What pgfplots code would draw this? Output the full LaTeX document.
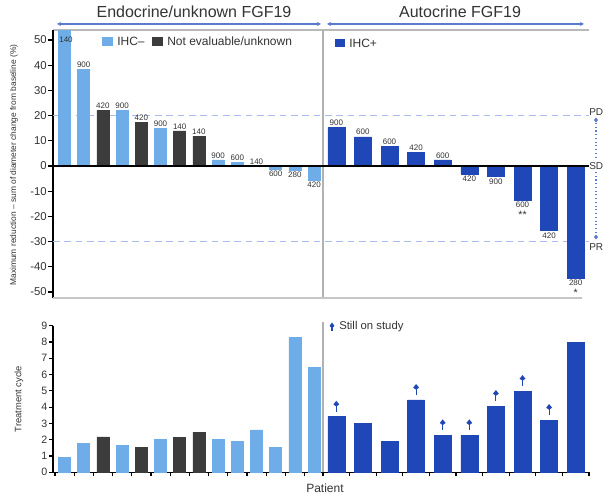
\documentclass[border=0pt]{standalone}
\usepackage{fontspec}
\setmainfont{Liberation Sans}
\usepackage{pgfplots}
\pgfplotsset{compat=1.18}
\usetikzlibrary{arrows.meta}
\definecolor{lb}{HTML}{6EADE8}
\definecolor{dg}{HTML}{3C3C3C}
\definecolor{db}{HTML}{1F47B8}
\definecolor{dashc}{HTML}{A9BCEE}
\definecolor{arr}{HTML}{5B7BD0}
\definecolor{txt}{HTML}{333333}

\pgfdeclareplotmark{still}{%
  \pgfsetlinewidth{0.8pt}%
  \pgfpathmoveto{\pgfpoint{0pt}{0pt}}\pgfpathlineto{\pgfpoint{0pt}{5pt}}\pgfusepathqstroke
  \pgfpathmoveto{\pgfpoint{0pt}{8.3pt}}\pgfpathlineto{\pgfpoint{2.2pt}{5.6pt}}%
  \pgfpathlineto{\pgfpoint{0pt}{4.0pt}}\pgfpathlineto{\pgfpoint{-2.2pt}{5.6pt}}\pgfpathclose
  \pgfusepathqfill}

\begin{document}
\begin{tikzpicture}
\begin{scope}[x=0.75pt, y=-0.75pt, shift={(0pt,371.25pt)}]
  \path[use as bounding box] (0,0) rectangle (604,495);
  \coordinate (T) at (53,298);
  \coordinate (B) at (53,472.3);
  % titles
  \node[font=\fontsize{12}{14}\selectfont, text=txt] at (194,12) {Endocrine/unknown FGF19};
  \node[font=\fontsize{12}{14}\selectfont, text=txt] at (460,12) {Autocrine FGF19};
  \draw[arr, line width=0.8pt, {Stealth[length=3pt,width=3pt]}-{Stealth[length=3pt,width=3pt]}] (57,24) -- (321,24);
  \draw[arr, line width=0.8pt, {Stealth[length=3pt,width=3pt]}-{Stealth[length=3pt,width=3pt]}] (327,24) -- (584,24);
  \draw[gray!55, line width=1pt] (53,30) -- (589,30);
  % legends
  \fill[lb] (102,37) rectangle (113,46);
  \node[anchor=west, font=\fontsize{9}{10}\selectfont, text=txt, inner sep=0pt] at (117,41.5) {IHC–};
  \fill[dg] (152,37) rectangle (163,46);
  \node[anchor=west, font=\fontsize{9}{10}\selectfont, text=txt, inner sep=0pt] at (167,41.5) {Not evaluable/unknown};
  \fill[db] (335,39) rectangle (345,47);
  \node[anchor=west, font=\fontsize{9}{10}\selectfont, text=txt, inner sep=0pt] at (349,43) {IHC+};
  % response labels
  \node[anchor=west, font=\fontsize{7.5}{9}\selectfont, text=txt, inner sep=0pt] at (589,112) {PD};
  \node[anchor=west, font=\fontsize{7.5}{9}\selectfont, text=txt, inner sep=0pt] at (589,166) {SD};
  \node[anchor=west, font=\fontsize{7.5}{9}\selectfont, text=txt, inner sep=0pt] at (589,247) {PR};
  \draw[arr, line width=0.8pt, dotted] (596,123) -- (596,160);
  \draw[arr, line width=0.8pt, dotted] (596,172) -- (596,235);
  \fill[arr] (596,117.5) -- (598,120) -- (596,122.5) -- (594,120) -- cycle;
  \fill[arr] (596,234.5) -- (598,237) -- (596,239.5) -- (594,237) -- cycle;
  % axis titles
  \node[rotate=90, font=\fontsize{6.3}{7}\selectfont, text=txt] at (14,165) {Maximum reduction – sum of diameter change from baseline (\%)};
  \node[rotate=90, font=\fontsize{7}{8}\selectfont, text=txt] at (19,399) {Treatment cycle};
  \node[font=\fontsize{9}{10}\selectfont, text=txt] at (325,488) {Patient};
  % still on study legend
  \draw[db, line width=0.8pt] (332,327) -- (332,331);
  \fill[db] (332,322.5) -- (334.5,326) -- (332,328.5) -- (329.5,326) -- cycle;
  \node[anchor=west, font=\fontsize{8.5}{9}\selectfont, text=txt, inner sep=0pt] at (339,327) {Still on study};
\end{scope}

% ---------------- top panel ----------------
\begin{axis}[
  at={(T)}, anchor=south west, scale only axis,
  width=402pt, height=201pt,
  xmin=0, xmax=536, ymin=-52.4, ymax=54,
  axis x line=none, axis y line*=left,
  y axis line style={-, line width=1.1pt, black},
  ytick={-50,-40,...,50},
  tick align=outside, major tick length=3.5pt,
  every tick/.style={black, line width=0.9pt},
  yticklabel style={font=\fontsize{8.5}{9}\selectfont, inner sep=1pt, text=txt},
  /pgf/number format/assume math mode=true,
  clip=false,
  point meta=explicit symbolic,
  pos/.style={nodes near coords, every node near coord/.style={anchor=south, font=\fontsize{6}{7}\selectfont, text=txt, inner sep=1.2pt}},
  neg/.style={nodes near coords, every node near coord/.style={anchor=north, font=\fontsize{6}{7}\selectfont, text=txt, inner sep=1.2pt}},
]
\draw[dashc, line width=0.9pt, dash pattern=on 5pt off 3.5pt] (axis cs:0,20) -- (axis cs:536,20);
\draw[dashc, line width=0.9pt, dash pattern=on 5pt off 3.5pt] (axis cs:0,-30) -- (axis cs:536,-30);
\draw[gray!60, line width=1.2pt] (axis cs:270,-52.4) -- (axis cs:270,54);
\draw[gray!45, line width=1pt] (axis cs:0,-52.4) -- (axis cs:529,-52.4);

\addplot[ybar, bar shift=0pt, bar width=12, fill=lb, draw=lb] coordinates {(11.5,54)};
\addplot[ybar, bar shift=0pt, bar width=12, fill=lb, draw=lb, pos] coordinates {
 (30.7,38.5) [900] (69.1,22) [900] (107.5,15) [900] (165.1,2.4) [900] (184.3,1.3) [600]
 (203.5,0) [140]};
\addplot[ybar, bar shift=0pt, bar width=12, fill=lb, draw=lb, neg] coordinates {
 (222.7,-1.3) [600] (241.9,-1.8) [280] (261.1,-5.5) [420]};
\addplot[ybar, bar shift=0pt, bar width=12, fill=dg, draw=dg, pos] coordinates {
 (49.9,22.2) [420] (88.3,17.3) [420] (126.7,13.9) [140] (145.9,11.9) [140]};
\addplot[ybar, bar shift=0pt, bar width=17, fill=db, draw=db, pos] coordinates {
 (283.3,15.2) [900] (309.9,11.6) [600] (336.5,7.7) [600] (363.1,5.3) [420] (389.7,2.4) [600]};
\addplot[ybar, bar shift=0pt, bar width=17, fill=db, draw=db, neg] coordinates {
 (416.3,-3.2) [420] (442.9,-4.2) [900] (469.5,-13.5) [600]
 (496.1,-25.7) [420] (522.7,-44.6) [280]};
\draw[black, line width=1.1pt] (axis cs:0,0) -- (axis cs:536,0);
\node[font=\fontsize{6}{7}\selectfont, text=txt] at (axis cs:13,50) {140};
\node[font=\fontsize{8}{9}\selectfont, text=txt] at (axis cs:469.5,-19.2) {**};
\node[font=\fontsize{8}{9}\selectfont, text=txt] at (axis cs:522.7,-50.2) {*};
\end{axis}

% ---------------- bottom panel ----------------
\begin{axis}[
  at={(B)}, anchor=south west, scale only axis,
  width=402pt, height=109.95pt,
  xmin=0, xmax=536, ymin=0, ymax=9,
  axis x line*=bottom, axis y line*=left,
  axis line style={-, line width=1.1pt, black},
  xtick={1.9,21.1,40.3,59.5,78.7,97.9,117.1,136.3,155.5,174.7,193.9,213.1,232.3,251.5,270,296.6,323.2,349.8,376.4,403,429.6,456.2,482.8,509.4,536},
  xticklabels={},
  ytick={0,1,...,9},
  tick align=outside, major tick length=3pt,
  every tick/.style={black, line width=0.9pt},
  yticklabel style={font=\fontsize{8}{9}\selectfont, inner sep=1pt, text=txt},
  /pgf/number format/assume math mode=true,
  clip=false,
]
\draw[gray!60, line width=1.2pt] (axis cs:270,0) -- (axis cs:270,9.2);
\addplot[ybar, bar shift=0pt, bar width=12, fill=lb, draw=lb] coordinates {
 (11.5,0.9) (30.7,1.78) (69.1,1.65) (107.5,2.02) (165.1,2.02) (184.3,1.92)
 (203.5,2.6) (222.7,1.53) (241.9,8.28) (261.1,6.42)};
\addplot[ybar, bar shift=0pt, bar width=12, fill=dg, draw=dg] coordinates {
 (49.9,2.17) (88.3,1.53) (126.7,2.12) (145.9,2.47)};
\addplot[ybar, bar shift=0pt, bar width=17, fill=db, draw=db] coordinates {
 (283.3,3.41) (309.9,3.0) (336.5,1.92) (363.1,4.44) (389.7,2.27) (416.3,2.27)
 (442.9,4.07) (469.5,4.99) (496.1,3.21) (522.7,7.98)};
\addplot[only marks, mark=still, color=db] coordinates {
 (283.3,3.71) (363.1,4.74) (389.7,2.57) (416.3,2.57) (442.9,4.37) (469.5,5.29) (496.1,3.51)};
\end{axis}
\end{tikzpicture}
\end{document}
